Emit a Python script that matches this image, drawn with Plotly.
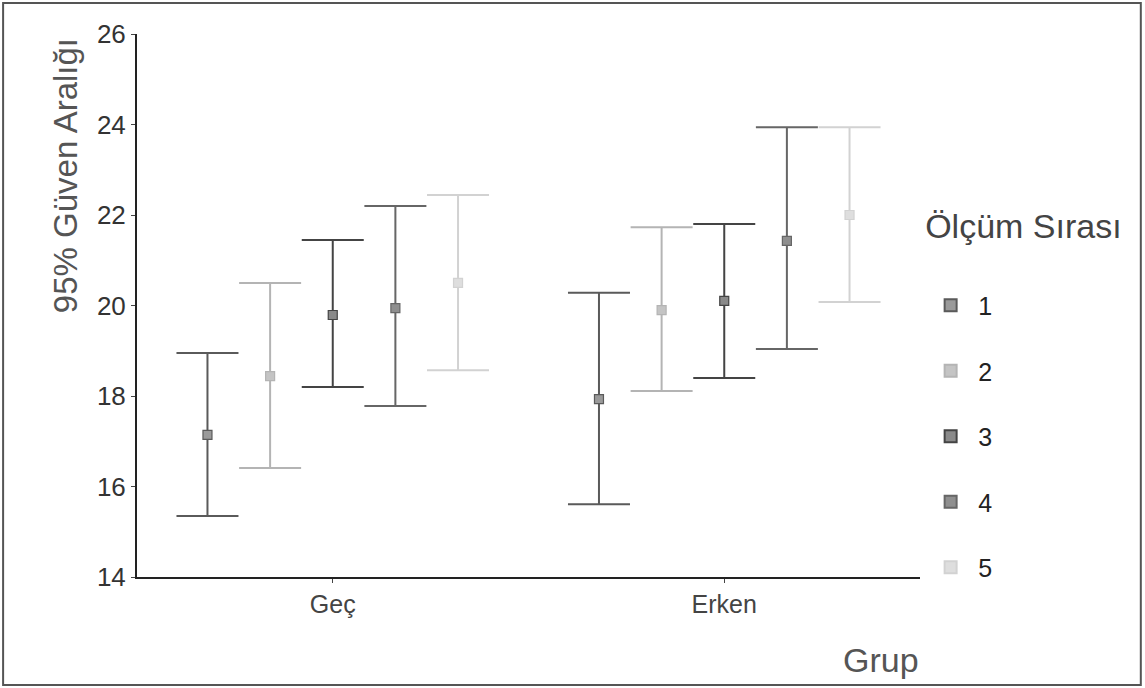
import plotly.graph_objects as go

groups = ["Geç", "Erken"]
series_names = ["1", "2", "3", "4", "5"]
means = [
    [17.14, 17.93],
    [18.44, 19.90],
    [19.79, 20.10],
    [19.94, 21.43],
    [20.50, 22.00],
]
upper = [
    [18.95, 20.28],
    [20.50, 21.73],
    [21.45, 21.80],
    [22.20, 23.94],
    [22.44, 23.94],
]
lower = [
    [15.35, 15.61],
    [16.41, 18.11],
    [18.20, 18.40],
    [17.78, 19.04],
    [18.57, 20.08],
]
y_ticks = [14, 16, 18, 20, 22, 24, 26]

line_colors = ["#5a5a5a", "#b4b4b4", "#444444", "#666666", "#d2d2d2"]
fill_colors = ["#9a9a9a", "#c4c4c4", "#8a8a8a", "#8f8f8f", "#dedede"]
offset_step = 0.16
FONT = "Liberation Sans, Arial, sans-serif"

fig = go.Figure()
for k, name in enumerate(series_names):
    xs = [g + (k - 2) * offset_step for g in range(len(groups))]
    fig.add_trace(go.Scatter(
        x=xs, y=means[k], mode="markers", name=name,
        legendgroup=name,
        marker=dict(symbol="square", size=9, color=fill_colors[k],
                    line=dict(color=line_colors[k], width=1.2)),
        error_y=dict(type="data", symmetric=False,
                     array=[u - m for u, m in zip(upper[k], means[k])],
                     arrayminus=[m - l for m, l in zip(means[k], lower[k])],
                     color=line_colors[k], thickness=2, width=31),
    ))

fig.update_layout(
    width=1145, height=688,
    margin=dict(l=137, r=225, t=34, b=111),
    paper_bgcolor="white", plot_bgcolor="white",
    font=dict(family=FONT, color="#333333"),
    showlegend=True,
    legend=dict(
        x=1.004, xanchor="left", y=0.705, yanchor="top",
        title=dict(text="Ölçüm Sırası<br> ", font=dict(size=34, color="#444444")),
        font=dict(size=25, color="#222222"),
        tracegroupgap=30, itemsizing="constant", itemwidth=45,
        bgcolor="rgba(0,0,0,0)",
    ),
    xaxis=dict(
        range=[-0.5, 1.5], tickvals=list(range(len(groups))), ticktext=groups,
        showline=True, linecolor="#222222", linewidth=2,
        ticks="outside", ticklen=4, tickcolor="#444444",
        showgrid=False, zeroline=False,
        tickfont=dict(size=25, color="#444444"),
    ),
    yaxis=dict(
        range=[14, 26], tickvals=y_ticks,
        showline=True, linecolor="#222222", linewidth=2,
        ticks="outside", ticklen=4, tickcolor="#444444",
        showgrid=False, zeroline=False,
        tickfont=dict(size=26, color="#333333"),
    ),
    annotations=[
        dict(text="95% Güven Aralığı", xref="paper", yref="paper",
             x=-0.092, y=0.74, textangle=-90, showarrow=False,
             font=dict(size=33, color="#555555"), xanchor="center", yanchor="middle"),
        dict(text="Grup", xref="paper", yref="paper",
             x=0.95, y=-0.153, showarrow=False,
             font=dict(size=34, color="#555555"), xanchor="center", yanchor="middle"),
    ],
    shapes=[
        dict(type="rect", xref="paper", yref="paper",
             x0=-0.171, x1=1.282, y0=-0.199, y1=1.057,
             line=dict(color="#555555", width=2), fillcolor="rgba(0,0,0,0)"),
    ],
)

fig.write_html("out.html", config={"displayModeBar": False},
               post_script="document.body.style.margin='0';")
